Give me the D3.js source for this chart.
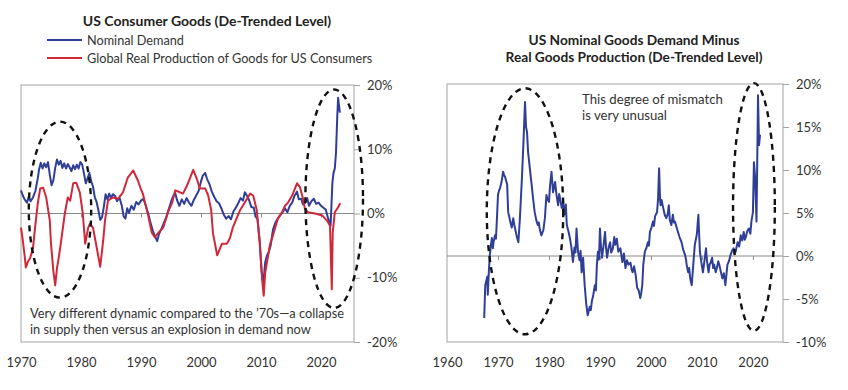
<!DOCTYPE html>
<html>
<head>
<meta charset="utf-8">
<script src="https://cdn.jsdelivr.net/npm/d3@7"></script>
<style>
  html, body { margin: 0; padding: 0; background: #fff; }
  svg { display: block; font-family: Lato, "Open Sans", sans-serif; }
</style>
</head>
<body>
<svg id="chart" width="848" height="390"></svg>
<script>
// ---------------- DATA ----------------
const leftTitle = "US Consumer Goods (De-Trended Level)";
const legendLabels = ["Nominal Demand", "Global Real Production of Goods for US Consumers"];
const leftYTicks = [20, 10, 0, -10, -20];
const leftXTicks = [1970, 1980, 1990, 2000, 2010, 2020];
const rightTitleLines = ["US Nominal Goods Demand Minus", "Real Goods Production (De-Trended Level)"];
const rightYTicks = [20, 15, 10, 5, 0, -5, -10];
const rightXTicks = [1960, 1970, 1980, 1990, 2000, 2010, 2020];
const leftNote = ["Very different dynamic compared to the \u201970s\u2014a collapse", "in supply then versus an explosion in demand now"];
const rightNote = ["This degree of mismatch", "is very unusual"];

// [year, % de-trended level]
const nominalDemand = [
  [1970.0,3.6],[1970.3,2.8],[1970.6,2.2],[1971.0,1.7],[1971.3,2.6],[1971.6,1.9],[1972.0,2.5],[1972.4,3.5],
  [1972.8,5.5],[1973.0,6.8],[1973.3,7.9],[1973.6,7.0],[1973.9,7.8],[1974.2,7.2],[1974.5,8.0],[1974.8,6.0],
  [1975.1,4.4],[1975.4,5.2],[1975.7,7.1],[1976.0,8.4],[1976.3,7.6],[1976.6,8.2],[1976.9,7.1],[1977.2,7.8],
  [1977.5,7.0],[1977.8,7.7],[1978.1,7.2],[1978.4,6.6],[1978.7,7.5],[1979.0,6.9],[1979.3,7.6],[1979.6,7.0],
  [1979.9,8.0],[1980.2,7.6],[1980.5,6.2],[1980.8,4.7],[1981.1,5.5],[1981.4,6.3],[1981.7,5.0],[1982.0,4.2],
  [1982.3,2.5],[1982.6,1.8],[1982.9,0.5],[1983.2,-1.0],[1983.5,-0.6],[1983.8,1.0],[1984.1,3.0],[1984.4,2.2],
  [1984.7,3.1],[1985.0,2.4],[1985.3,3.0],[1985.7,2.7],[1986.0,1.9],[1986.4,2.5],[1986.8,1.2],[1987.1,-0.4],
  [1987.4,-0.8],[1987.7,0.8],[1988.0,0.1],[1988.4,1.2],[1988.8,0.6],[1989.2,1.8],[1989.6,1.4],[1990.0,2.0],
  [1990.4,2.3],[1990.8,1.2],[1991.2,0.0],[1991.6,-1.5],[1992.0,-2.8],[1992.4,-3.7],[1992.7,-4.3],[1993.0,-3.2],
  [1993.4,-2.4],[1993.8,-1.5],[1994.2,-0.6],[1994.6,0.6],[1995.0,1.8],[1995.4,2.8],[1995.7,3.2],[1996.0,2.1],
  [1996.4,1.2],[1996.8,2.2],[1997.2,1.5],[1997.6,2.4],[1998.0,1.7],[1998.4,1.2],[1998.8,2.1],[1999.2,2.8],
  [1999.6,3.5],[2000.0,5.0],[2000.3,5.9],[2000.7,6.3],[2001.0,5.4],[2001.4,4.6],[2001.8,3.4],[2002.2,2.6],
  [2002.6,1.9],[2003.0,1.6],[2003.4,0.8],[2003.8,-0.2],[2004.2,-0.8],[2004.6,-0.4],[2005.0,-0.9],[2005.4,0.3],
  [2005.8,0.9],[2006.2,1.6],[2006.6,2.4],[2007.0,2.0],[2007.3,3.3],[2007.7,2.7],[2008.0,2.1],[2008.4,1.0],
  [2008.8,0.9],[2009.1,-0.5],[2009.4,-0.8],[2009.8,-4.5],[2010.1,-9.0],[2010.4,-10.8],[2010.7,-7.6],[2011.0,-6.5],
  [2011.3,-6.0],[2011.6,-5.0],[2012.0,-2.5],[2012.4,-1.4],[2012.8,-0.8],[2013.2,-0.3],[2013.6,0.2],[2014.0,0.8],
  [2014.4,0.2],[2014.8,1.2],[2015.2,1.7],[2015.6,2.8],[2016.0,3.4],[2016.3,2.2],[2016.7,2.3],[2017.0,1.4],
  [2017.3,1.6],[2017.7,2.4],[2018.0,1.2],[2018.4,1.9],[2018.8,2.3],[2019.2,1.5],[2019.6,1.7],[2020.0,1.2],
  [2020.4,0.9],[2020.8,0.6],[2021.2,-0.8],[2021.6,-1.9],[2021.9,4.8],[2022.1,6.4],[2022.3,7.0],[2022.5,9.5],
  [2022.7,14.8],[2022.85,18.0],[2023.0,16.8],[2023.15,15.7]
];

const realProduction = [
  [1970.0,-2.2],[1970.3,-4.2],[1970.6,-6.5],[1970.8,-8.4],[1971.2,-7.4],[1971.5,-7.0],[1972.0,-5.4],[1972.3,-2.6],
  [1972.8,1.6],[1973.2,3.9],[1973.7,4.0],[1974.2,2.5],[1974.8,-1.1],[1975.0,-4.7],[1975.4,-9.0],[1975.7,-11.2],
  [1976.0,-8.5],[1976.3,-6.8],[1976.7,-4.2],[1977.3,0.0],[1977.8,2.5],[1978.2,2.0],[1978.7,4.7],[1979.2,4.8],
  [1979.8,3.3],[1980.3,0.0],[1980.7,-4.7],[1981.2,-2.2],[1981.5,-1.6],[1982.0,-2.2],[1982.5,-4.7],[1983.2,-8.3],
  [1983.7,-4.2],[1984.0,-1.1],[1984.5,2.0],[1985.3,2.5],[1986.2,2.3],[1987.0,3.3],[1987.8,5.6],[1988.7,6.7],
  [1989.5,5.1],[1989.9,4.0],[1990.3,3.1],[1990.7,1.6],[1991.2,-0.3],[1991.8,-3.0],[1992.3,-3.7],[1992.8,-3.1],
  [1993.7,-2.2],[1994.5,0.2],[1995.2,1.7],[1995.7,3.6],[1996.5,3.3],[1997.0,3.1],[1997.7,4.4],[1998.2,5.6],
  [1998.7,6.8],[1999.3,5.4],[1999.8,3.9],[2000.7,3.9],[2001.2,2.8],[2001.7,0.5],[2002.0,-3.1],[2002.7,-6.5],
  [2003.5,-4.7],[2004.3,-4.7],[2004.8,-3.9],[2005.3,-2.2],[2006.0,-0.6],[2006.5,0.5],[2007.3,1.7],[2008.2,3.1],
  [2008.7,2.8],[2009.3,0.5],[2009.8,-4.7],[2010.2,-10.4],[2010.45,-12.8],[2010.7,-9.2],[2011.2,-6.5],[2011.5,-4.8],
  [2012.0,-3.4],[2012.8,-0.8],[2013.5,0.2],[2014.0,1.2],[2014.5,1.7],[2015.2,2.8],[2015.7,4.0],[2016.0,4.7],
  [2016.5,4.1],[2017.0,2.3],[2017.3,0.8],[2017.8,0.2],[2019.0,0.0],[2020.2,-0.3],[2021.0,-1.1],[2021.5,-1.9],
  [2021.8,-11.8],[2021.95,-3.0],[2022.3,0.2],[2022.8,0.9],[2023.2,1.6]
];

const mismatch = [
  [1967.3,-7.2],[1967.5,-3.4],[1967.9,-2.4],[1968.0,-4.5],[1968.2,-1.9],[1968.4,0.1],[1968.6,1.2],[1968.8,2.1],
  [1969.0,0.9],[1969.1,1.5],[1969.4,2.4],[1969.6,2.0],[1969.8,4.4],[1970.0,7.1],[1970.2,7.6],[1970.4,7.9],
  [1970.7,8.6],[1971.0,9.8],[1971.2,9.4],[1971.4,9.2],[1971.8,8.3],[1972.0,5.1],[1972.2,4.6],[1972.4,4.0],
  [1972.7,3.3],[1973.0,4.4],[1973.2,3.6],[1973.5,2.8],[1973.7,2.2],[1974.0,1.6],[1974.3,4.4],[1974.7,9.1],
  [1975.0,13.3],[1975.3,17.9],[1975.5,15.0],[1975.7,14.4],[1975.9,12.1],[1976.3,9.9],[1976.6,8.3],[1976.9,6.6],
  [1977.2,5.1],[1977.5,4.2],[1977.8,3.6],[1978.0,3.9],[1978.2,3.1],[1978.5,2.4],[1978.9,3.0],[1979.2,4.4],
  [1979.5,7.1],[1979.7,6.6],[1980.0,6.3],[1980.2,8.1],[1980.5,9.8],[1980.8,7.4],[1981.0,8.0],[1981.2,8.6],
  [1981.5,7.0],[1981.8,5.9],[1982.0,7.2],[1982.2,6.6],[1982.5,5.6],[1982.8,6.2],[1983.0,4.8],[1983.3,6.0],
  [1983.5,3.6],[1983.8,2.9],[1984.1,2.1],[1984.4,1.0],[1984.7,-0.7],[1985.0,1.0],[1985.2,0.4],[1985.4,3.2],
  [1985.7,0.5],[1986.0,-0.5],[1986.2,0.6],[1986.4,-1.9],[1986.7,-0.2],[1987.0,-3.4],[1987.3,-5.5],[1987.6,-6.9],
  [1988.0,-5.9],[1988.2,-6.3],[1988.4,-5.3],[1988.7,-4.5],[1989.0,-3.4],[1989.2,-4.0],[1989.4,-1.0],[1989.6,0.5],
  [1989.8,-0.4],[1990.0,3.2],[1990.2,1.1],[1990.4,-0.2],[1990.7,1.2],[1991.0,2.8],[1991.2,0.9],[1991.4,-0.2],
  [1991.7,1.0],[1992.0,1.6],[1992.2,0.4],[1992.5,0.8],[1992.8,2.2],[1993.0,1.3],[1993.3,2.0],[1993.6,0.5],
  [1994.0,0.9],[1994.2,0.1],[1994.4,-0.7],[1994.7,0.3],[1995.0,-1.4],[1995.3,-0.5],[1995.6,-1.0],[1996.0,-0.8],
  [1996.2,-1.5],[1996.4,-1.9],[1996.7,-1.2],[1997.0,-2.2],[1997.3,-3.7],[1997.6,-4.0],[1997.9,-4.9],[1998.1,-4.3],
  [1998.3,-3.4],[1998.5,-1.0],[1998.8,0.5],[1999.1,0.9],[1999.4,1.6],[1999.6,1.2],[1999.8,2.8],[2000.1,3.3],
  [2000.4,4.0],[2000.6,3.5],[2000.8,4.6],[2001.2,5.1],[2001.4,6.7],[2001.6,10.2],[2001.8,6.4],[2001.9,5.9],
  [2002.1,6.5],[2002.4,5.6],[2002.7,4.8],[2003.0,4.4],[2003.3,4.9],[2003.5,5.9],[2003.7,4.2],[2004.0,3.6],
  [2004.3,4.8],[2004.5,3.9],[2004.7,4.0],[2005.0,3.4],[2005.3,2.8],[2005.6,2.2],[2006.0,1.6],[2006.3,0.8],
  [2006.7,0.1],[2006.9,-0.5],[2007.0,-1.0],[2007.3,-1.9],[2007.5,-1.4],[2007.7,-2.6],[2008.0,-3.4],[2008.3,-1.0],
  [2008.6,1.3],[2009.0,2.5],[2009.3,4.8],[2009.6,0.5],[2009.9,-0.8],[2010.2,-1.9],[2010.5,-0.5],[2010.8,0.9],
  [2011.0,-0.6],[2011.3,-1.9],[2011.5,-1.0],[2011.7,-0.8],[2012.0,-0.2],[2012.2,-1.4],[2012.4,-1.0],[2012.7,-1.9],
  [2013.0,-1.2],[2013.2,-0.6],[2013.4,-1.0],[2013.7,-1.8],[2014.0,-2.6],[2014.3,-2.0],[2014.6,-3.4],[2015.0,-1.0],
  [2015.3,-0.6],[2015.6,0.1],[2015.9,0.6],[2016.2,0.9],[2016.4,0.3],[2016.6,0.5],[2017.0,1.6],[2017.3,1.1],
  [2017.6,2.4],[2017.9,1.8],[2018.2,2.8],[2018.4,1.9],[2018.6,2.2],[2018.9,2.9],[2019.2,3.2],[2019.5,2.6],
  [2019.7,4.0],[2020.0,5.1],[2020.2,10.9],[2020.4,9.4],[2020.6,6.0],[2020.7,4.0],[2020.8,8.6],[2021.0,18.7],
  [2021.2,12.9],[2021.4,14.1]
];

// Dashed ellipse annotations: [centre year, centre %, half-width in years, half-height in %]
const leftEllipses = [[1976.5, 0.6, 5.2, 13.7], [2022.2, 2.3, 4.8, 17.0]];
const rightEllipses = [[1975.3, 5.2, 7.5, 14.3], [2020.2, 5.7, 4.1, 14.4]];

// ---------------- DRAW ----------------
const svg = d3.select("#chart");
const textColor = "#333";
const frameColor = "#a3a3a3";
const blue = "#2f3f98";
const red = "#d0283a";

function drawPanel(opts) {
  const { x, y, yTicks, xTicks, zeroTicks, series, ellipses } = opts;
  const g = svg.append("g");
  const [x0, x1] = x.range();
  const [y0, y1] = y.range(); // bottom, top

  g.append("rect")
    .attr("x", x0).attr("y", y1).attr("width", x1 - x0).attr("height", y0 - y1)
    .attr("fill", "none").attr("stroke", frameColor).attr("stroke-width", 1);

  g.append("line")
    .attr("x1", x0).attr("x2", x1).attr("y1", y(0)).attr("y2", y(0))
    .attr("stroke", "#8a8a8a").attr("stroke-width", 1);

  const zt = g.append("g").attr("transform", `translate(0,${y(0)})`)
    .call(d3.axisBottom(x).tickValues(zeroTicks).tickSize(4).tickFormat(""));
  zt.select(".domain").remove();
  zt.selectAll("line").attr("stroke", "#8a8a8a");

  const ya = g.append("g").attr("transform", `translate(${x1},0)`)
    .call(d3.axisRight(y).tickValues(yTicks).tickSize(6).tickPadding(7).tickFormat(d => d + "%"));
  ya.select(".domain").remove();
  ya.selectAll("line").attr("stroke", frameColor);
  ya.selectAll("text").attr("fill", textColor).attr("font-size", 13).attr("font-family", "Lato, sans-serif");

  const xa = g.append("g").attr("transform", `translate(0,358)`)
    .call(d3.axisBottom(x).tickValues(xTicks).tickSize(0).tickPadding(0).tickFormat(d3.format("d")));
  xa.select(".domain").remove();
  xa.selectAll("text").attr("fill", textColor).attr("font-size", 13).attr("font-family", "Lato, sans-serif");

  const line = d3.line().x(d => x(d[0])).y(d => y(d[1])).curve(d3.curveLinear);
  series.forEach(s => {
    g.append("path").datum(s.data)
      .attr("fill", "none").attr("stroke", s.color).attr("stroke-width", 2)
      .attr("stroke-linejoin", "round").attr("d", line);
  });

  ellipses.forEach(e => {
    g.append("ellipse")
      .attr("cx", x(e[0])).attr("cy", y(e[1]))
      .attr("rx", Math.abs(x(e[0] + e[2]) - x(e[0])))
      .attr("ry", Math.abs(y(e[1] + e[3]) - y(e[1])))
      .attr("fill", "none").attr("stroke", "#111").attr("stroke-width", 2.4)
      .attr("stroke-dasharray", "6,5");
  });
  return g;
}

const xL = d3.scaleLinear().domain([1970, 2025.5]).range([21, 354]);
const yL = d3.scaleLinear().domain([-20, 20]).range([342, 85]);
drawPanel({
  x: xL, y: yL, yTicks: leftYTicks, xTicks: leftXTicks,
  zeroTicks: [1980, 1990, 2000, 2010, 2020],
  series: [{ data: nominalDemand, color: blue }, { data: realProduction, color: red }],
  ellipses: leftEllipses
});

const xR = d3.scaleLinear().domain([1960, 2025.9]).range([447, 783]);
const yR = d3.scaleLinear().domain([-10, 20]).range([342, 84]);
drawPanel({
  x: xR, y: yR, yTicks: rightYTicks, xTicks: rightXTicks,
  zeroTicks: [1970, 1980, 1990, 2000, 2010, 2020],
  series: [{ data: mismatch, color: blue }],
  ellipses: rightEllipses
});

// Titles
svg.append("text").text(leftTitle)
  .attr("x", 207).attr("y", 26).attr("text-anchor", "middle")
  .attr("font-weight", "bold").attr("font-size", 14).attr("fill", "#222");

rightTitleLines.forEach((t, i) => {
  svg.append("text").text(t)
    .attr("x", 634).attr("y", 45 + i * 16.5).attr("text-anchor", "middle")
    .attr("font-weight", "bold").attr("font-size", 13.7).attr("fill", "#222");
});

// Legend
const legendColors = [blue, red];
legendLabels.forEach((t, i) => {
  const ly = 40 + i * 18;
  svg.append("line").attr("x1", 47).attr("x2", 82).attr("y1", ly).attr("y2", ly)
    .attr("stroke", legendColors[i]).attr("stroke-width", 2);
  svg.append("text").text(t).attr("x", 87).attr("y", ly + 4.5)
    .attr("font-size", 12.7).attr("fill", textColor);
});

// Notes
leftNote.forEach((t, i) => {
  svg.append("text").text(t).attr("x", 30).attr("y", 318 + i * 15.6)
    .attr("font-size", 12.8).attr("fill", textColor);
});
rightNote.forEach((t, i) => {
  svg.append("text").text(t).attr("x", 582).attr("y", 104 + i * 16)
    .attr("font-size", 13.2).attr("fill", textColor);
});
</script>
</body>
</html>
